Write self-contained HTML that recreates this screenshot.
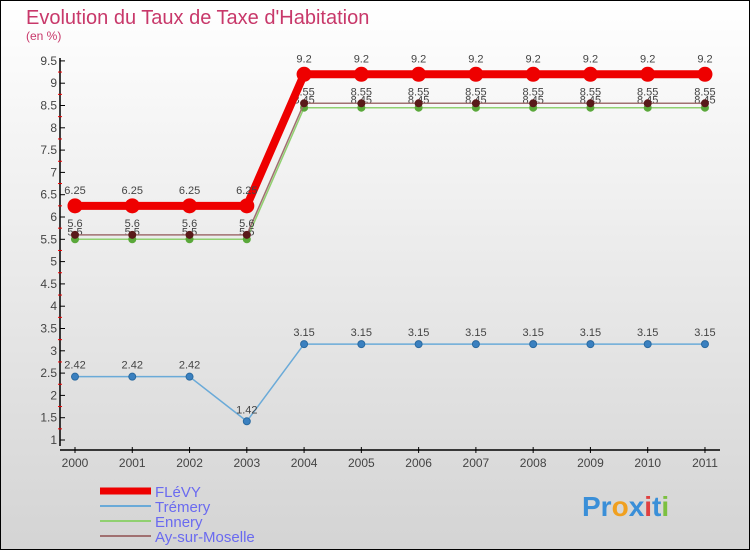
<!DOCTYPE html>
<html><head><meta charset="utf-8"><style>
body{margin:0}
#c{width:750px;height:550px;position:relative;overflow:hidden}
</style></head><body>
<div id="c">
<svg id="s" width="750" height="550" xmlns="http://www.w3.org/2000/svg" font-family="Liberation Sans, sans-serif">
<defs><linearGradient id="bg" x1="0" y1="0" x2="0" y2="1"><stop offset="0" stop-color="#ffffff"/><stop offset="1" stop-color="#d4d4d4"/></linearGradient></defs>
<rect x="0.5" y="0.5" width="749" height="549" fill="url(#bg)" stroke="#000"/>
<text x="26" y="24" font-size="20" fill="#c8386a">Evolution du Taux de Taxe d'Habitation</text>
<text x="26" y="40" font-size="12" fill="#c8386a">(en %)</text>
<g id="axes"></g><g id="series"></g><g id="legend"></g>
<text x="582" y="516" font-size="28" font-weight="bold"><tspan fill="#3a8fd8">Pr</tspan><tspan fill="#f0a020">o</tspan><tspan fill="#3a8fd8">x</tspan><tspan fill="#e04040">i</tspan><tspan fill="#3a8fd8">t</tspan><tspan fill="#7cc040">i</tspan></text>
</svg></div>
<script>
const years=[2000,2001,2002,2003,2004,2005,2006,2007,2008,2009,2010,2011];
const yTicks=[1,1.5,2,2.5,3,3.5,4,4.5,5,5.5,6,6.5,7,7.5,8,8.5,9,9.5];
const seriesNames=["FLéVY","Trémery","Ennery","Ay-sur-Moselle"];
const flevy=[6.25,6.25,6.25,6.25,9.2,9.2,9.2,9.2,9.2,9.2,9.2,9.2];
const tremery=[2.42,2.42,2.42,1.42,3.15,3.15,3.15,3.15,3.15,3.15,3.15,3.15];
const ennery=[5.5,5.5,5.5,5.5,8.45,8.45,8.45,8.45,8.45,8.45,8.45,8.45];
const ay=[5.6,5.6,5.6,5.6,8.55,8.55,8.55,8.55,8.55,8.55,8.55,8.55];
const NS="http://www.w3.org/2000/svg";
const X=i=>75+i*57.27, Y=v=>440-(v-1)*44.6;
function mk(t,a,p){const e=document.createElementNS(NS,t);for(const k in a)e.setAttribute(k,a[k]);p.appendChild(e);return e;}
const ax=document.getElementById('axes');
let l=mk('line',{x1:60,y1:58,x2:60,y2:446,stroke:'#000','stroke-width':1.5},ax);


l=mk('line',{x1:60,y1:450,x2:720,y2:450,stroke:'#000','stroke-width':1.5},ax);


yTicks.forEach((v,i)=>{
 mk('line',{x1:60,y1:Y(v),x2:65,y2:Y(v),stroke:'#000'},ax);
 if(i<yTicks.length-1) mk('line',{x1:58,y1:Y(v+0.25),x2:62,y2:Y(v+0.25),stroke:'#e00'},ax);
 const t=mk('text',{x:57,y:Y(v)+4,'font-size':12,'text-anchor':'end',fill:'#444'},ax);t.textContent=v;
 
 
});
years.forEach((y,i)=>{
 mk('line',{x1:X(i),y1:447,x2:X(i),y2:453,stroke:'#000'},ax);
 const t=mk('text',{x:X(i),y:467,'font-size':12,'text-anchor':'middle',fill:'#444'},ax);t.textContent=y;
 
 
});
const sg=document.getElementById('series');
const defs=[[ennery,'#90d070','#5aa83a',1.5,3.5,'ennery',-4],[ay,'#a07070','#5a1a1a',1.5,3.5,'ay-sur-moselle',-8],[tremery,'#6aaad8','#3a80c0',1.5,3.5,'tremery',-8],[flevy,'#ee0000','#ee0000',8,7,'flevy',-12]];
defs.forEach(([d,c,dc,w,r,n,off])=>{
 const p=mk('polyline',{points:d.map((v,i)=>X(i)+','+Y(v)).join(' '),fill:'none',stroke:c,'stroke-width':w,'stroke-linejoin':'round'},sg);
 
 
 d.forEach((v,i)=>{
  const ci=mk('circle',{cx:X(i),cy:Y(v),r:r,fill:dc,stroke:n=='tremery'?'#2a6aa0':dc},sg);
  
  
  const t=mk('text',{x:X(i),y:Y(v)+off,'font-size':11,'text-anchor':'middle',fill:'#444'},sg);t.textContent=v;
  
  
 });
});
const lg=document.getElementById('legend');
const lc=['#ee0000','#6aaad8','#90d070','#a07070'],lw=[7,2,2,2];
seriesNames.forEach((n,i)=>{
 const y=491+i*15;
 const ln=mk('line',{x1:100,y1:y,x2:151,y2:y,stroke:lc[i],'stroke-width':lw[i]},lg);
 
 
 const t=mk('text',{x:155,y:y+6,'font-size':15,fill:'#6a6af0'},lg);t.textContent=n;
 
 
});
</script>
</body></html>
